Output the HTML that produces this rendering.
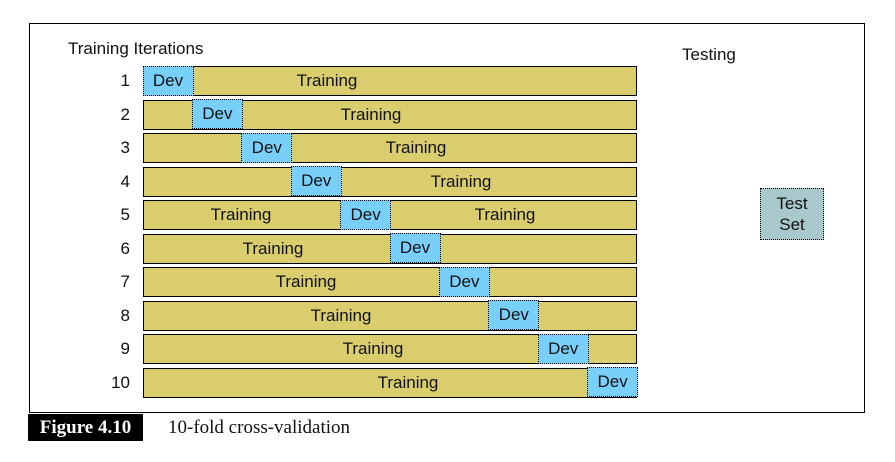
<!DOCTYPE html>
<html><head><style>
body{margin:0;width:895px;height:462px;background:#fff;position:relative;font-family:"Liberation Sans",sans-serif;overflow:hidden}
.a{position:absolute}
.frame{left:29px;top:23px;width:834px;height:388px;border:1.5px solid #000}
.bar{position:absolute;left:143px;width:494px;height:30px;background:#d9cd6e;border:1.5px solid #000;box-sizing:border-box}
.dev{position:absolute;top:-1.5px;height:30px;width:51px;background:#78d0fa;border:1.5px dotted #000;box-sizing:border-box;text-align:center;line-height:27px;font-size:17px;color:#111}
.t{position:absolute;top:0;line-height:27px;font-size:17px;color:#111;transform:translateX(-50%);white-space:nowrap}
.n{position:absolute;width:40px;left:90px;text-align:right;font-size:17px;color:#111}
</style></head><body>
<div class="a frame"></div>
<div class="a" style="left:68px;top:39px;font-size:17px;color:#111">Training Iterations</div>
<div class="a" style="left:682px;top:45px;font-size:17px;color:#111">Testing</div>
<div class="a" style="left:760px;top:188px;width:64px;height:52px;background:#a8c8cc;border:1.5px dotted #000;box-sizing:border-box;text-align:center;font-size:17px;line-height:21px;padding-top:4px;color:#111">Test<br>Set</div>
<div id="rows"></div>
<div class="a" style="left:28px;top:414px;width:115px;height:27px;background:#000;color:#fff;font-family:'Liberation Serif',serif;font-weight:bold;font-size:19px;line-height:27px;text-align:center">Figure 4.10</div>
<div class="a" style="left:168px;top:414px;font-family:'Liberation Serif',serif;font-size:19px;line-height:27px;color:#111">10-fold cross-validation</div>
<script>
(function(){
var L=[[326],[370],[415],[460],[240,504],[272],[305],[340],[372],[407]];
var h='';
for(var i=0;i<10;i++){
 var y=66+i*33.5;
 h+='<div class="n" style="top:'+(y+5)+'px">'+(i+1)+'</div>';
 h+='<div class="bar" style="top:'+y+'px">';
 L[i].forEach(function(x){h+='<span class="t" style="left:'+(x-143)+'px">Training</span>';});
 h+='<div class="dev" style="left:'+(i*49.4-1.5)+'px">Dev</div></div>';
}
document.getElementById('rows').innerHTML=h;
})();
</script>
</body></html>
